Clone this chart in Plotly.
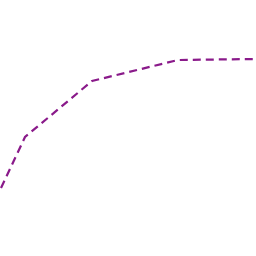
import plotly.graph_objects as go

x_vals = [1, 25, 92, 178, 255]
y_vals = [68, 119, 175, 196, 197]

fig = go.Figure(go.Scatter(x=x_vals, y=y_vals, mode="lines",
                           line=dict(color="#8a1a8a", width=2.2, dash="8px,5px")))
fig.update_layout(width=256, height=256, margin=dict(l=0, r=0, t=0, b=0),
                  paper_bgcolor="white", plot_bgcolor="white", showlegend=False)
fig.update_xaxes(visible=False, range=[0, 256])
fig.update_yaxes(visible=False, range=[0, 256])
fig.write_html("out.html")
